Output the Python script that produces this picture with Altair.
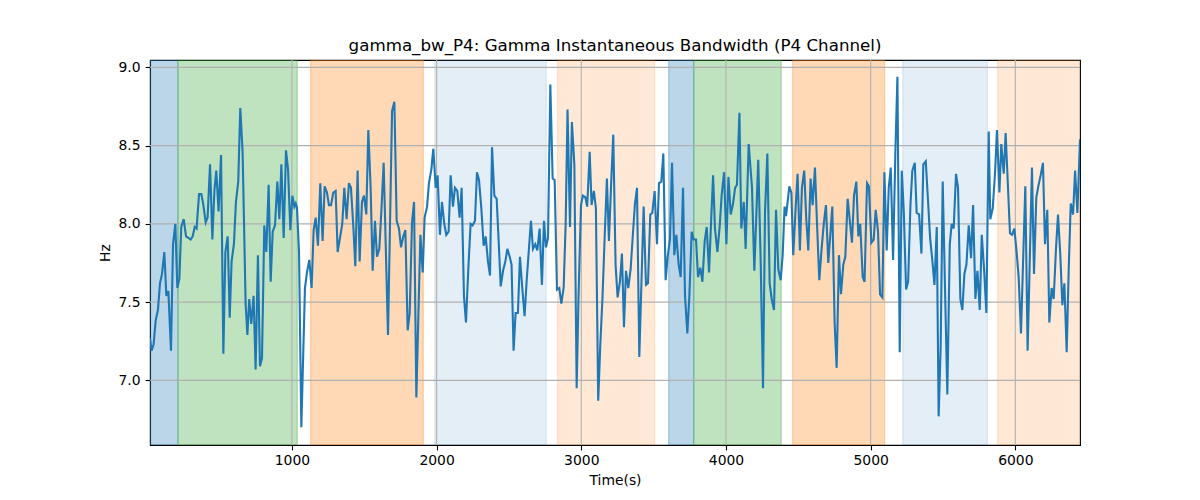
import altair as alt
import pandas as pd

TITLE = "gamma_bw_P4: Gamma Instantaneous Bandwidth (P4 Channel)"
X_TITLE = "Time(s)"
Y_TITLE = "Hz"

t1 = [19, 30, 44, 58, 74, 88, 102, 118, 132, 146, 164, 178, 194, 208, 222, 235, 252, 268, 284, 300,
      314, 328, 341, 358, 374, 388, 404, 417, 434, 450, 464, 477, 493, 510, 526, 540, 556, 570, 583, 599,
      613, 629, 643, 659, 680, 692, 705, 719, 735, 749, 765, 779, 793, 809, 823, 839]
v1 = [7.27, 7.19, 7.23, 7.38, 7.45, 7.62, 7.68, 7.82, 7.54, 7.57, 7.19, 7.87, 8.00, 7.59, 7.65, 7.98, 8.03, 7.92, 7.91, 7.90,
      7.92, 7.98, 7.97, 8.19, 8.19, 8.12, 8.01, 8.04, 8.38, 7.90, 8.21, 8.34, 8.08, 8.44, 7.17, 7.82, 7.92, 7.40, 7.76, 7.87,
      8.14, 8.27, 8.74, 8.46, 7.49, 7.29, 7.52, 7.36, 7.54, 7.07, 7.80, 7.09, 7.14, 7.99, 7.82, 8.25]

t2 = [853, 867, 883, 899, 913, 927, 943, 959, 973, 989, 1003, 1017, 1026, 1035, 1049, 1065, 1079, 1090, 1104, 1120,
      1136, 1150, 1164, 1180, 1196, 1212, 1226, 1242, 1256, 1270, 1286, 1302, 1316, 1332, 1348, 1362, 1378, 1394, 1408, 1424,
      1438, 1454, 1468, 1484, 1498, 1514, 1528, 1544, 1558, 1574, 1588, 1604, 1618, 1634, 1664]
v2 = [7.63, 7.95, 7.99, 8.27, 8.03, 8.38, 7.91, 8.47, 8.35, 7.96, 8.18, 8.11, 8.13, 8.10, 7.82, 6.70, 7.20, 7.59, 7.69, 7.77,
      7.59, 7.96, 8.04, 7.86, 8.26, 7.89, 8.24, 8.20, 8.12, 8.12, 8.20, 8.21, 7.82, 7.91, 8.00, 8.23, 8.03, 8.26, 8.23, 7.99,
      7.73, 8.34, 7.76, 8.14, 8.18, 8.06, 8.60, 8.23, 7.70, 8.02, 7.79, 7.84, 8.08, 8.39, 7.29]

t3 = [1692, 1708, 1724, 1740, 1754, 1770, 1784, 1800, 1814, 1830, 1844, 1860, 1874, 1888, 1904, 1917, 1934, 1947, 1964, 1977,
      1994, 2007, 2023, 2037, 2053, 2067, 2083, 2097, 2113, 2127, 2143, 2159, 2173, 2189, 2203, 2219, 2235, 2249, 2265, 2279,
      2293, 2309, 2325, 2339, 2355, 2369, 2383, 2399, 2415, 2429, 2443, 2459, 2475, 2489]
v3 = [8.72, 8.78, 8.02, 7.97, 7.85, 7.92, 7.96, 7.32, 7.43, 8.01, 8.14, 6.89, 7.42, 7.93, 7.69, 8.04, 8.11, 8.26, 8.35, 8.48,
      8.23, 8.31, 7.93, 8.14, 8.00, 7.93, 7.95, 8.31, 8.11, 8.23, 8.21, 8.04, 8.23, 7.54, 7.37, 7.71, 8.00, 7.99, 8.02, 8.33,
      8.28, 8.10, 7.86, 7.92, 7.76, 7.67, 8.49, 8.18, 8.16, 7.89, 7.60, 7.70, 7.76, 7.84]

t4 = [2505, 2518, 2532, 2546, 2562, 2576, 2592, 2608, 2622, 2638, 2652, 2666, 2682, 2696, 2712, 2728, 2742, 2756, 2770, 2786,
      2802, 2816, 2832, 2848, 2862, 2878, 2892, 2905, 2922, 2935, 2952, 2968, 2981, 2998, 3011, 3028, 3041, 3058, 3071, 3087,
      3101, 3117, 3131, 3147, 3161, 3177, 3191, 3207, 3221, 3237, 3251, 3267, 3281, 3295, 3309, 3325]
v4 = [7.79, 7.74, 7.19, 7.43, 7.43, 7.79, 7.59, 7.41, 7.63, 7.84, 8.02, 7.84, 7.87, 7.83, 7.97, 7.61, 8.02, 7.85, 7.91, 8.89,
      8.29, 8.28, 7.58, 7.59, 7.49, 7.59, 8.00, 8.73, 7.98, 8.65, 8.38, 6.95, 7.54, 8.12, 8.18, 8.17, 8.11, 8.46, 8.12, 8.21,
      8.10, 6.87, 7.22, 7.54, 7.90, 8.29, 7.89, 8.27, 8.57, 7.74, 7.53, 7.63, 7.81, 7.34, 7.70, 7.59]

t5 = [3341, 3355, 3371, 3385, 3401, 3431, 3447, 3461, 3477, 3491, 3507, 3523, 3537, 3553, 3567, 3583, 3597, 3613, 3627, 3643,
      3657, 3673, 3687, 3703, 3717, 3733, 3747, 3763, 3777, 3793, 3807, 3823, 3837, 3853, 3867, 3883, 3897, 3911, 3924, 3941,
      3957, 3970, 3987, 4003, 4017, 4033, 4049, 4063, 4076, 4093, 4106, 4123, 4136, 4157]
v5 = [7.71, 7.91, 8.13, 8.23, 7.15, 8.11, 7.61, 7.62, 8.06, 8.07, 8.21, 7.87, 8.26, 8.27, 8.45, 7.64, 7.79, 7.90, 8.39, 7.80,
      7.93, 7.74, 7.66, 8.23, 7.54, 7.30, 7.54, 7.95, 7.90, 7.90, 7.66, 7.72, 7.63, 7.89, 7.98, 7.69, 8.01, 8.31, 7.97, 7.82,
      7.99, 8.18, 8.33, 7.87, 8.30, 8.06, 8.13, 8.23, 8.25, 8.71, 7.97, 8.14, 7.84, 8.51]

t6 = [4180, 4196, 4210, 4223, 4240, 4256, 4270, 4286, 4302, 4316, 4332, 4346, 4362, 4378, 4392, 4405, 4415, 4438, 4452, 4465,
      4482, 4495, 4511, 4525, 4541, 4555, 4569, 4585, 4599, 4615, 4629, 4645, 4661, 4677, 4691, 4707, 4721, 4735, 4751, 4765,
      4781, 4795, 4811, 4825, 4841, 4855, 4871, 4885, 4901, 4915, 4928, 4945, 4958, 4975, 4988]
v6 = [8.23, 7.70, 8.06, 8.41, 7.76, 6.95, 8.08, 8.45, 7.62, 7.52, 7.45, 8.09, 7.71, 7.64, 7.80, 8.11, 8.05, 8.24, 8.20, 7.80,
      8.11, 8.32, 7.83, 8.23, 8.34, 8.03, 7.83, 8.29, 8.12, 8.36, 8.01, 7.64, 7.84, 8.01, 8.12, 7.75, 7.93, 8.11, 7.37, 7.08,
      7.80, 7.55, 7.74, 7.79, 8.16, 8.03, 7.88, 8.18, 8.27, 7.92, 8.00, 7.66, 7.63, 8.26, 8.24]

t7 = [5005, 5021, 5035, 5051, 5065, 5081, 5095, 5111, 5125, 5139, 5155, 5171, 5185, 5201, 5215, 5229, 5245, 5259, 5275, 5288,
      5305, 5318, 5335, 5351, 5364, 5381, 5397, 5411, 5427, 5441, 5457, 5470, 5484, 5498, 5514, 5530, 5547, 5560, 5574, 5590,
      5604, 5620, 5634, 5648, 5662, 5678, 5694, 5708, 5724, 5738, 5754, 5768, 5784, 5800, 5816]
v7 = [7.88, 7.90, 8.09, 7.95, 7.55, 7.53, 8.33, 7.83, 8.23, 8.36, 7.77, 8.46, 8.94, 7.18, 8.34, 8.08, 7.58, 7.63, 8.12, 8.34,
      8.39, 8.07, 8.06, 7.81, 8.38, 8.40, 8.14, 7.91, 7.76, 7.61, 7.98, 6.77, 7.22, 8.27, 7.59, 6.91, 7.87, 8.00, 7.97, 8.32,
      8.23, 7.52, 7.45, 7.68, 7.74, 7.99, 7.78, 8.12, 7.52, 7.70, 7.45, 7.93, 7.71, 7.43, 8.59]

t8 = [5827, 5844, 5860, 5873, 5890, 5903, 5920, 5933, 5963, 5977, 5993, 6007, 6023, 6039, 6069, 6085, 6115, 6129, 6145, 6159,
      6175, 6191, 6205, 6221, 6235, 6251, 6265, 6281, 6295, 6311, 6325, 6339, 6355, 6369, 6383, 6399, 6413, 6429, 6447]
v8 = [8.03, 8.10, 8.33, 8.60, 8.20, 8.51, 8.32, 8.58, 7.94, 7.93, 7.97, 7.84, 7.66, 7.30, 8.24, 7.19, 8.36, 7.68, 8.17, 8.24,
      8.31, 8.39, 7.87, 8.09, 7.37, 7.59, 7.52, 7.84, 8.06, 7.80, 7.48, 7.62, 7.18, 7.71, 8.13, 8.06, 8.34, 8.07, 8.54]

band_start = [19, 212, 1129, 1987, 2836, 3604, 3777, 4461, 5222, 5878]
band_end = [212, 1037, 1908, 2758, 3507, 3777, 4382, 5097, 5807, 6447]
band_color = ["#1f77b4", "#2ca02c", "#ff7f0e", "#1f77b4", "#ff7f0e",
              "#1f77b4", "#2ca02c", "#ff7f0e", "#1f77b4", "#ff7f0e"]
band_opacity = [0.3, 0.3, 0.3, 0.12, 0.17, 0.3, 0.3, 0.3, 0.12, 0.17]

x_ticks = [1000, 2000, 3000, 4000, 5000, 6000]
y_ticks = [7.0, 7.5, 8.0, 8.5, 9.0]
x_domain = [19, 6447]
y_domain = [6.587, 9.047]

times, values = [], []
for tt, vv in [(t1, v1), (t2, v2), (t3, v3), (t4, v4), (t5, v5), (t6, v6), (t7, v7), (t8, v8)]:
    n = min(len(tt), len(vv))
    times += tt[:n]
    values += vv[:n]

line_df = pd.DataFrame({"time": times, "value": values})
band_df = pd.DataFrame({"start": band_start, "end": band_end,
                        "color": band_color, "opacity": band_opacity})
xg_df = pd.DataFrame({"gx": x_ticks})
yg_df = pd.DataFrame({"gy": y_ticks})

FONT = "DejaVu Sans"
xscale = alt.Scale(domain=x_domain, nice=False, zero=False)
yscale = alt.Scale(domain=y_domain, nice=False, zero=False)

common = dict(grid=False, tickSize=4.9, tickWidth=1.1, tickColor="black",
              domainColor="black", domainWidth=1.1,
              labelFont=FONT, labelFontSize=13.9, labelColor="black",
              titleFont=FONT, titleFontSize=13.9, titleFontWeight="normal",
              titleColor="black")
x_axis = alt.Axis(values=x_ticks, format="d", title=X_TITLE, labelPadding=4,
                  titlePadding=6, **common)
y_axis = alt.Axis(values=y_ticks, format=".1f", title=Y_TITLE, labelPadding=5,
                  titlePadding=6, **common)

bands = alt.Chart(band_df).mark_rect(clip=True, strokeWidth=1.3).encode(
    x=alt.X("start:Q", scale=xscale, axis=x_axis),
    x2="end:Q",
    y=alt.value(0),
    y2=alt.value(385),
    fill=alt.Color("color:N", scale=None),
    stroke=alt.Color("color:N", scale=None),
    fillOpacity=alt.FillOpacity("opacity:Q", scale=None),
    strokeOpacity=alt.StrokeOpacity("opacity:Q", scale=None),
)

xgrid = alt.Chart(xg_df).mark_rule(color="#b0b0b0", strokeWidth=1.1).encode(
    x=alt.X("gx:Q", scale=xscale, axis=x_axis),
)
ygrid = alt.Chart(yg_df).mark_rule(color="#b0b0b0", strokeWidth=1.1).encode(
    y=alt.Y("gy:Q", scale=yscale, axis=y_axis),
)

line = alt.Chart(line_df).mark_line(color="#1f77b4", strokeWidth=2.1, clip=True).encode(
    x=alt.X("time:Q", scale=xscale, axis=x_axis),
    y=alt.Y("value:Q", scale=yscale, axis=y_axis),
)

chart = alt.layer(bands, xgrid, ygrid, line).properties(
    width=930,
    height=385,
    title=alt.TitleParams(TITLE, font=FONT, fontSize=16.7, fontWeight="normal",
                          color="black", anchor="middle", frame="group", offset=5),
    autosize=alt.AutoSizeParams(type="none"),
    padding={"left": 142, "top": 52, "right": 110, "bottom": 45},
).configure(font=FONT).configure_view(stroke="black", strokeWidth=1.1)

chart.save("out.html", embed_options={"renderer": "svg", "actions": False})
